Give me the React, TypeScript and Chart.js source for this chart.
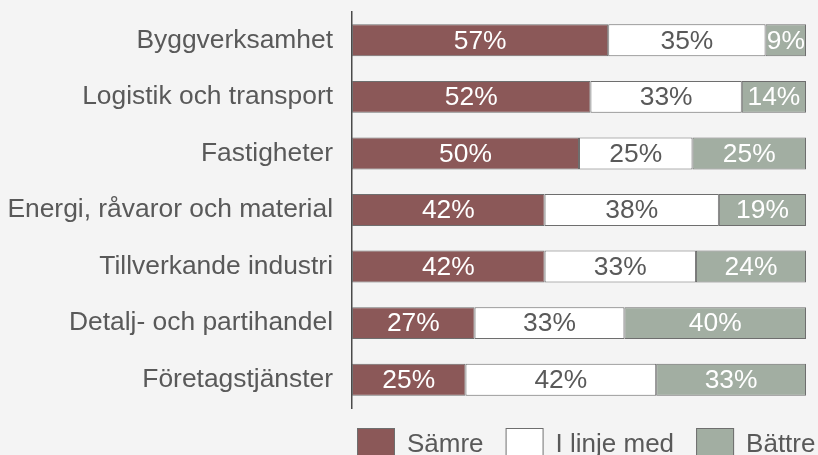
import { useEffect, useRef } from "react";
import { Chart, registerables } from "chart.js";

Chart.register(...registerables);

const categories = [
  "Byggverksamhet",
  "Logistik och transport",
  "Fastigheter",
  "Energi, råvaror och material",
  "Tillverkande industri",
  "Detalj- och partihandel",
  "Företagstjänster",
];
const samre = [57, 52, 50, 42, 42, 27, 25];
const iLinjeMed = [35, 33, 25, 38, 33, 33, 42];
const battre = [9, 14, 25, 19, 24, 40, 33];
const seriesNames = ["Sämre", "I linje med", "Bättre"];

const FONT = "'Liberation Sans', Arial, sans-serif";
const COLORS = ["#8B5858", "#FFFFFF", "#A2AEA2"];
const LABEL_COLORS = ["#FFFFFF", "#595959", "#FFFFFF"];
const BORDER = "#6E6E6E";
const TEXT = "#595959";
const FS = 26.4;
const LEGEND_FS = 26;

export default function App() {
  const ref = useRef<HTMLCanvasElement>(null);

  useEffect(() => {
    if (!ref.current) return;
    const raw = [samre, iLinjeMed, battre];
    const totals = categories.map((_, i) => raw.reduce((s, a) => s + a[i], 0));
    const datasets = raw.map((arr, k) => ({
      label: seriesNames[k],
      data: arr.map((v, i) => (v / totals[i]) * 100),
      backgroundColor: COLORS[k],
      borderColor: BORDER,
      borderWidth: 1,
      borderSkipped: false as const,
      barPercentage: 0.565,
      categoryPercentage: 1,
    }));

    const labelPlugin = {
      id: "segLabels",
      afterDatasetsDraw(chart: any) {
        const ctx = chart.ctx;
        ctx.save();
        ctx.font = `${FS}px ${FONT}`;
        ctx.textAlign = "center";
        ctx.textBaseline = "middle";
        chart.data.datasets.forEach((_ds: any, k: number) => {
          const meta = chart.getDatasetMeta(k);
          meta.data.forEach((bar: any, i: number) => {
            const { x, y, base } = bar.getProps(["x", "y", "base"], true);
            ctx.fillStyle = LABEL_COLORS[k];
            ctx.fillText(raw[k][i] + "%", (x + base) / 2, y + 1);
          });
        });
        ctx.restore();
      },
    };

    const legendPlugin = {
      id: "customLegend",
      afterDraw(chart: any) {
        const ctx = chart.ctx;
        const area = chart.chartArea;
        ctx.save();
        ctx.font = `${LEGEND_FS}px ${FONT}`;
        ctx.textBaseline = "alphabetic";
        ctx.textAlign = "left";
        let x = area.left + 5;
        const top = area.bottom + 20;
        seriesNames.forEach((name, k) => {
          ctx.fillStyle = COLORS[k];
          ctx.fillRect(x, top, 38, 38);
          ctx.strokeStyle = BORDER;
          ctx.lineWidth = 1;
          ctx.strokeRect(x + 0.5, top + 0.5, 37, 37);
          x += 38 + 12;
          ctx.fillStyle = TEXT;
          ctx.fillText(name, x, top + 24);
          x += ctx.measureText(name).width + 22;
        });
        ctx.restore();
      },
    };

    const chart = new Chart(ref.current, {
      type: "bar",
      data: { labels: categories, datasets },
      options: {
        indexAxis: "y",
        responsive: true,
        maintainAspectRatio: false,
        animation: false,
        layout: { padding: { top: 12, right: 12, bottom: 47, left: 0 } },
        plugins: {
          legend: { display: false },
          tooltip: { enabled: false },
        },
        scales: {
          x: { stacked: true, min: 0, max: 100, display: false },
          y: {
            stacked: true,
            grid: { display: false, drawTicks: false },
            border: { display: true, color: "#4A4A4A", width: 1.5 },
            ticks: {
              color: TEXT,
              font: { family: FONT, size: FS },
              padding: 19,
              autoSkip: false,
            },
            afterFit: (s: any) => {
              s.width = 352;
              s.paddingTop = 0;
              s.paddingBottom = 0;
            },
          },
        },
      },
      plugins: [labelPlugin, legendPlugin],
    });
    return () => chart.destroy();
  }, []);

  return (
    <div
      style={{
        position: "fixed",
        left: 0,
        top: 0,
        width: 818,
        height: 455,
        background: "#f4f4f4",
      }}
    >
      <canvas ref={ref} />
    </div>
  );
}
